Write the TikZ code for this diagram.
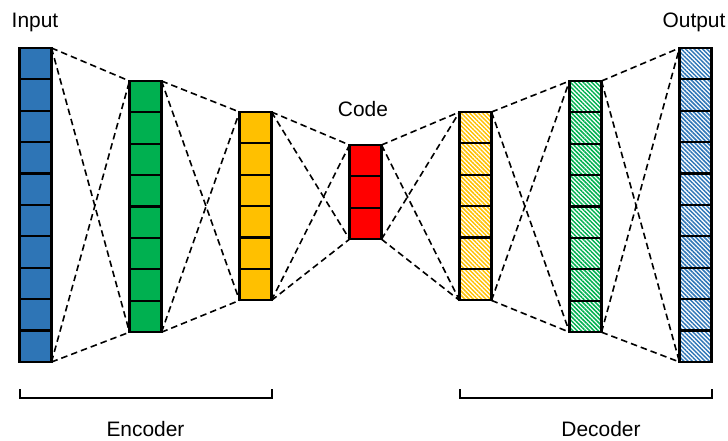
\documentclass[tikz,border=0pt]{standalone}
\usepackage{fontspec}
\setmainfont{Liberation Sans}
\usetikzlibrary{patterns.meta}
\definecolor{inblue}{HTML}{2E75B6}
\definecolor{encgreen}{HTML}{00B050}
\definecolor{encgold}{HTML}{FFC000}
\definecolor{codered}{HTML}{FF0000}
\begin{document}
\begin{tikzpicture}[x=1bp,y=-1bp,
  every node/.style={inner sep=0pt,outer sep=0pt},
  cell/.style={draw,line width=2.2bp,minimum width=32bp,minimum height=31.4bp},
  hatch/.style={pattern={Lines[angle=-45,distance=3bp,line width=1.5bp]},pattern color=#1},
  link/.style={line width=1.6bp,dash pattern=on 6.5bp off 4bp},
  bracket/.style={line width=2.4bp},
  lbl/.style={anchor=base,font=\fontsize{21}{25}\selectfont}]
  \useasboundingbox (0,0) rectangle (728,441);

  % encoder side, the code included
  \foreach \i/\n/\t/\c in {0/10/48/inblue,1/8/81/encgreen,2/6/112/encgold,3/3/145/codered}
    \foreach \k in {1,...,\n}
      \node[cell,fill=\c] (c\i-\k) at ({35.5+110*\i},{\t+31.4*(\k-0.5)}) {};
  % decoder side, hatched
  \foreach \i/\n/\t/\c in {4/6/112/encgold,5/8/81/encgreen,6/10/48/inblue}
    \foreach \k in {1,...,\n}
      \node[cell,hatch=\c] (c\i-\k) at ({35.5+110*\i},{\t+31.4*(\k-0.5)}) {};

  \foreach \i/\n/\j/\m in {0/10/1/8,1/8/2/6,2/6/3/3,3/3/4/6,4/6/5/8,5/8/6/10}{
    \draw[link] (c\i-1.north east) -- (c\j-1.north west);
    \draw[link] (c\i-1.north east) -- (c\j-\m.south west);
    \draw[link] (c\i-\n.south east) -- (c\j-1.north west);
    \draw[link] (c\i-\n.south east) -- (c\j-\m.south west);
  }

  \node[lbl] (inlbl) at (35,27.3) {Input};
  \node[lbl] (outlbl) at (694,27.3) {Output};
  \node[lbl] (codelbl) at (363,116.7) {Code};

  \coordinate (encl) at (20,389);
  \coordinate (encr) at (272,389);
  \coordinate (decl) at (460,389);
  \coordinate (decr) at (712,389);
  \draw[bracket] (encl) -- ++(0,9) -| (encr);
  \draw[bracket] (decl) -- ++(0,9) -| (decr);
  \node[lbl] (enclbl) at (145.5,436) {Encoder};
  \node[lbl] (declbl) at (601,436) {Decoder};
\end{tikzpicture}
\end{document}
